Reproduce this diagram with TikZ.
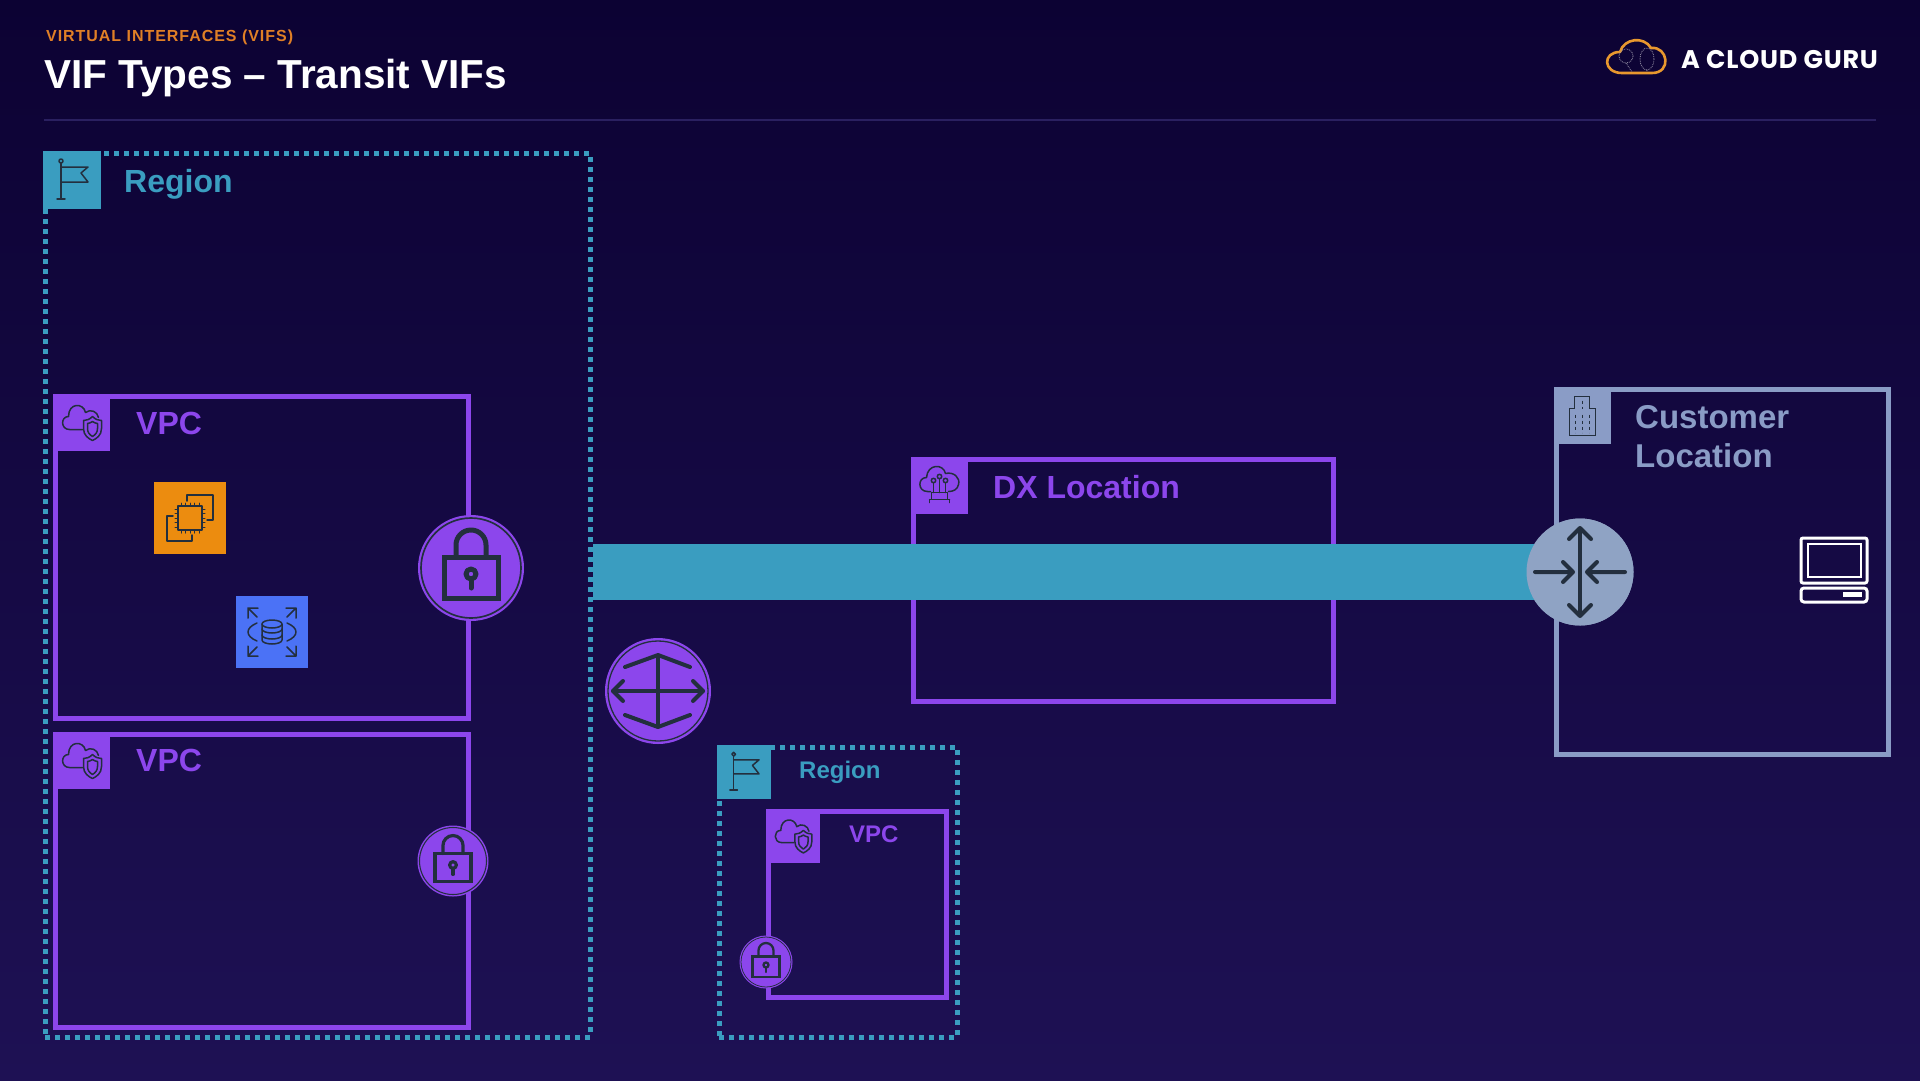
\documentclass[tikz,border=0pt]{standalone}
\usepackage{fontspec}
\setmainfont{Liberation Sans}
\newfontfamily\logofont[LetterSpace=3]{Poppins}
\definecolor{bgtop}{HTML}{0C0233}
\definecolor{bgbottom}{HTML}{1E1154}
\definecolor{vpcpurple}{HTML}{8C46EC}
\definecolor{regionteal}{HTML}{3A9DC0}
\definecolor{custgrey}{HTML}{8A9CC6}
\definecolor{routergrey}{HTML}{8FA3C4}
\definecolor{iconink}{HTML}{232F3E}
\definecolor{ec2orange}{HTML}{EC8C0F}
\definecolor{rdsblue}{HTML}{4B72F6}
\definecolor{logoorange}{HTML}{E8982E}
\definecolor{rulegrey}{HTML}{2A2060}
\definecolor{subtitleorange}{HTML}{E07F26}
\tikzset{
    framebox/.style={draw=#1,line width=5pt,anchor=north west,inner sep=0pt,outer sep=0pt},
    regionbox/.style={draw=regionteal,line width=5pt,dash pattern=on 5pt off 5pt,anchor=north west,inner sep=0pt,outer sep=0pt},
    iconsquare/.style={fill=#1,anchor=north west,inner sep=0pt,outer sep=0pt},
    disc/.style={circle,fill=#1,inner sep=0pt,outer sep=0pt},
    boxlabel/.style={anchor=base west,inner sep=0pt,font=\bfseries\fontsize{32}{36}\selectfont},
    smalllabel/.style={anchor=base west,inner sep=0pt,font=\bfseries\fontsize{24}{28}\selectfont},
    inkline/.style={draw=iconink,line width=1.5pt,line cap=round,line join=round},
    pics/lockpic/.style={code={
        \draw[inkline,line width=#1/3] (0,0) circle (50);
        \draw[inkline,line width=#1,line join=miter] (-27,-11) rectangle (27,30);
        \draw[inkline,line width=#1] (-15,-11) -- (-15,-23) arc (180:360:15) -- (15,-11);
        \draw[inkline,line width=#1] (0,6) circle (5);
        \draw[inkline,line width=#1] (0,11) -- (0,20);
    }},
    pics/flagpic/.style={code={
        \draw[inkline] (-11,-17) -- (-11,19) (-15,19) -- (-7,19);
        \draw[inkline] (-11,-19) circle (2);
        \draw[inkline] (-11,-13) -- (16,-13) -- (9,-7) -- (16,2) -- (-11,2);
    }},
    pics/vpcpic/.style={code={
        \draw[inkline] (1,7) -- (-12,7) .. controls (-21,7) and (-21,-6) .. (-13,-6)
            .. controls (-13,-20) and (2,-20) .. (4,-10) .. controls (9,-14) and (16,-11) .. (17,-5);
        \draw[inkline] (11,-6) .. controls (8,-3) and (5,-2) .. (2,-2) -- (2,6)
            .. controls (2,13) and (7,16) .. (11,18) .. controls (15,16) and (20,13) .. (20,6)
            -- (20,-2) .. controls (17,-2) and (14,-3) .. (11,-6) -- cycle;
        \draw[inkline] (11,-1) .. controls (9,0) and (8,1) .. (6,1) -- (6,6)
            .. controls (6,10) and (8,12) .. (11,14) .. controls (14,12) and (16,10) .. (16,6)
            -- (16,1) .. controls (14,1) and (13,0) .. (11,-1) -- cycle;
    }},
}
\begin{document}
\begin{tikzpicture}[x=1pt,y=-1pt]
    \shade[top color=bgtop,bottom color=bgbottom] (0,0) rectangle (1920,1080);
    \useasboundingbox (0,0) rectangle (1920,1080);

    % heading
    \node[anchor=base west,inner sep=0pt,text=subtitleorange,font=\bfseries\fontsize{16}{18}\selectfont\addfontfeature{LetterSpace=6}] (subtitle) at (46,41) {VIRTUAL INTERFACES (VIFS)};
    \node[anchor=base west,inner sep=0pt,text=white,font=\bfseries\fontsize{40.5}{44}\selectfont] (title) at (44,88) {VIF Types – Transit VIFs};
    \draw[rulegrey,line width=2pt] (44,120) -- (1876,120);

    % logo
    \draw[logoorange,line width=2.6pt,line join=round] (1622,73) .. controls (1603,73) and (1602,52) .. (1620,52)
        .. controls (1624,38) and (1644,36) .. (1651,48) .. controls (1668,46) and (1672,73) .. (1652,73) -- cycle;
    \draw[white!60!bgtop,line width=.8pt,densely dotted] (1626,56) circle (7) (1647,59) ellipse (7 and 11);
    \draw[white!60!bgtop,line width=.8pt,densely dotted] (1626,63) -- (1632,72) (1647,70) -- (1647,72);
    \node[anchor=base west,inner sep=0pt,text=white,font=\logofont\bfseries\fontsize{25.5}{28}\selectfont] (logotext) at (1681,68) {A CLOUD GURU};

    % big region
    \node[regionbox,minimum width=545pt,minimum height=884pt] (regionA) at (45,153) {};
    \node[iconsquare=regionteal,minimum size=58pt] (regionAicon) at (43,151) {};
    \pic at (regionAicon) {flagpic};
    \node[boxlabel,text=regionteal] (regionAlabel) at (124,192) {Region};

    % first vpc
    \node[framebox=vpcpurple,minimum width=413pt,minimum height=322pt] (vpcA) at (55.5,396.5) {};
    \node[iconsquare=vpcpurple,minimum size=57pt] (vpcAicon) at (53,394) {};
    \pic at (vpcAicon) {vpcpic};
    \node[boxlabel,text=vpcpurple] (vpcAlabel) at (136,434) {VPC};

    \node[iconsquare=ec2orange,minimum size=72pt] (ectwo) at (154,482) {};
    \begin{scope}[shift={(ectwo.center)}]
        \draw[inkline] (-12,-12) rectangle (12,12);
        \foreach \t in {-9,-4.5,0,4.5,9} {
            \draw[inkline,line width=1pt] (\t,-12) -- (\t,-15) (\t,12) -- (\t,15) (-12,\t) -- (-15,\t) (12,\t) -- (15,\t);
        }
        \draw[inkline] (-3,-17) -- (-3,-23) -- (23,-23) -- (23,2) -- (17,2);
        \draw[inkline] (-17,-2) -- (-23,-2) -- (-23,23) -- (2,23) -- (2,17);
    \end{scope}

    \node[iconsquare=rdsblue,minimum size=72pt] (rds) at (236,596) {};
    \begin{scope}[shift={(rds.center)}]
        \draw[inkline] (-10,-8) -- (-10,8) arc (180:0:10 and 4) -- (10,-8);
        \draw[inkline] (0,-8) ellipse (10 and 4);
        \draw[inkline] (-10,-3) arc (180:0:10 and 4) (-10,3) arc (180:0:10 and 4);
        \draw[inkline] (-15,-9) .. controls (-27,-4) and (-27,4) .. (-15,9);
        \draw[inkline] (15,-9) .. controls (27,-4) and (27,4) .. (15,9);
        \foreach \sx/\sy in {1/1,1/-1,-1/1,-1/-1} {
            \draw[inkline] (\sx*15,\sy*15) -- (\sx*24,\sy*24) (\sx*14,\sy*24) -- (\sx*24,\sy*24) -- (\sx*24,\sy*14);
        }
    \end{scope}

    % second vpc
    \node[framebox=vpcpurple,minimum width=413pt,minimum height=293pt] (vpcB) at (55.5,734.5) {};
    \node[iconsquare=vpcpurple,minimum size=57pt] (vpcBicon) at (53,732) {};
    \pic at (vpcBicon) {vpcpic};
    \node[boxlabel,text=vpcpurple] (vpcBlabel) at (136,771) {VPC};

    % dx location
    \node[framebox=vpcpurple,minimum width=420pt,minimum height=242pt] (dxloc) at (913.5,459.5) {};
    \node[iconsquare=vpcpurple,minimum size=57pt] (dxicon) at (911,457) {};
    \begin{scope}[shift={(dxicon.center)}]
        \draw[inkline] (-9,6) -- (-12,6) .. controls (-22,6) and (-22,-8) .. (-13,-8)
            .. controls (-12,-22) and (4,-22) .. (6,-12) .. controls (14,-14) and (21,-8) .. (19,-1)
            .. controls (18,4) and (14,6) .. (9,6);
        \draw[inkline] (-6,-5) circle (2.2) (0,-9) circle (2.2) (6,-5) circle (2.2);
        \draw[inkline] (-6,-3) -- (-6,7) (0,-7) -- (0,7) (6,-3) -- (6,7);
        \draw[inkline] (-8,7) -- (8,7) -- (8,14) -- (-8,14) -- cycle;
        \draw[inkline] (-10,14) -- (10,14) (-10,14) -- (-10,17) (10,14) -- (10,17);
    \end{scope}
    \node[boxlabel,text=vpcpurple] (dxlabel) at (993,498) {DX Location};

    % customer location
    \node[framebox=custgrey,minimum width=332pt,minimum height=365pt] (customer) at (1556,389) {};
    \node[iconsquare=custgrey,minimum size=57pt] (customericon) at (1554,387) {};
    \begin{scope}[shift={(customericon.center)}]
        \draw[inkline,line cap=butt,line join=miter] (-13,20) -- (-13,-7) -- (-8,-7) -- (-8,-19) -- (7,-19) -- (7,-7) -- (13,-7) -- (13,20) -- cycle;
        \foreach \t in {-7,0,7} {
            \draw[inkline,line cap=butt,dash pattern=on 3pt off 3pt] (\t,-1) -- (\t,17);
        }
        \draw[inkline,line cap=butt,dash pattern=on 3pt off 3pt] (0,-15) -- (0,-7);
    \end{scope}
    \node[boxlabel,text=custgrey,font=\bfseries\fontsize{33}{36}\selectfont] (customerlabelA) at (1635,428) {Customer};
    \node[boxlabel,text=custgrey,font=\bfseries\fontsize{33}{36}\selectfont] (customerlabelB) at (1635,467) {Location};

    % laptop
    \draw[white,line width=3pt,rounded corners=2pt] (1801,538) rectangle (1867,583);
    \draw[white,line width=2.2pt] (1808,544) rectangle (1861,577);
    \draw[white,line width=3pt,rounded corners=3pt] (1801,588) rectangle (1867,602);
    \fill[white] (1843,592) rectangle (1862,597);

    % small region
    \node[regionbox,minimum width=238pt,minimum height=290pt] (regionB) at (719,747) {};
    \node[iconsquare=regionteal,minimum size=54pt] (regionBicon) at (717,745) {};
    \pic[scale=.94] at (regionBicon) {flagpic};
    \node[smalllabel,text=regionteal] (regionBlabel) at (799,778) {Region};
    \node[framebox=vpcpurple,minimum width=178pt,minimum height=186pt] (vpcC) at (768,811) {};
    \node[iconsquare=vpcpurple,minimum size=54pt] (vpcCicon) at (766,809) {};
    \pic[scale=.94] at (vpcCicon) {vpcpic};
    \node[smalllabel,text=vpcpurple] (vpcClabel) at (849,842) {VPC};

    % vif band
    \coordinate (bandstart) at (593,572);
    \node[disc=routergrey,minimum size=107pt] (router) at (1580,572) {};
    \draw[regionteal,line width=56pt] (bandstart) -- (router.center);
    \node[disc=routergrey,minimum size=107pt] at (router) {};
    \begin{scope}[shift={(router.center)}]
        \draw[inkline,line width=4pt] (0,-43) -- (0,43);
        \draw[inkline,line width=4pt] (-11,-33) -- (0,-44) -- (11,-33) (-11,33) -- (0,44) -- (11,33);
        \draw[inkline,line width=4pt] (-45,0) -- (-7,0) (-17,-10) -- (-7,0) -- (-17,10);
        \draw[inkline,line width=4pt] (45,0) -- (7,0) (17,-10) -- (7,0) -- (17,10);
    \end{scope}

    % locks
    \node[disc=vpcpurple,minimum size=106pt] (lockA) at (471,568) {};
    \pic at (lockA) {lockpic=5pt};
    \node[disc=vpcpurple,minimum size=71pt] (lockB) at (453,861) {};
    \pic[scale=.67] at (lockB) {lockpic=3.2pt};
    \node[disc=vpcpurple,minimum size=53pt] (lockC) at (766,962) {};
    \pic[scale=.5] at (lockC) {lockpic=2.3pt};

    % transit gateway
    \node[disc=vpcpurple,minimum size=106pt] (tgw) at (658,691) {};
    \begin{scope}[shift={(tgw.center)}]
        \draw[inkline,line width=1.3pt] (0,0) circle (50);
        \draw[inkline,line width=4pt,line cap=butt] (0,-36) -- (0,36);
        \draw[inkline,line width=4pt] (-33,-24) -- (0,-36) -- (32,-24) (-33,24) -- (0,36) -- (32,24);
        \draw[inkline,line width=4pt] (-45,0) -- (45,0);
        \draw[inkline,line width=4pt] (-35,-10) -- (-45,0) -- (-35,10) (35,-10) -- (45,0) -- (35,10);
    \end{scope}
\end{tikzpicture}
\end{document}
